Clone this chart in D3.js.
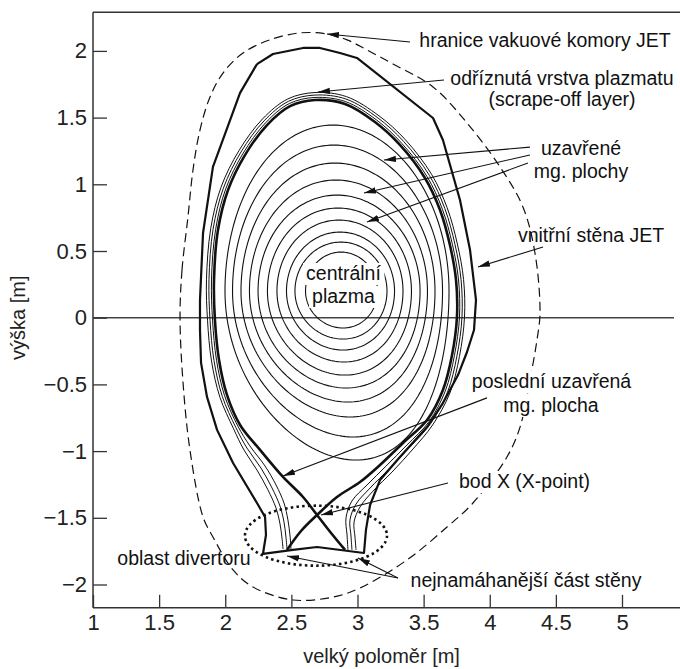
<!DOCTYPE html>
<html>
<head>
<meta charset="utf-8">
<script src="https://cdn.jsdelivr.net/npm/d3@7"></script>
<style>
  body { margin: 0; background: #fff; }
  svg { display: block; }
  text { font-family: "Liberation Sans", Arial, sans-serif; }
</style>
</head>
<body>
<svg id="svg" width="680" height="669"></svg>
<script>
// ticks
const xTicks = [1, 1.5, 2, 2.5, 3, 3.5, 4, 4.5, 5];
const yTicks = [-2, -1.5, -1, -0.5, 0, 0.5, 1, 1.5, 2];

// hranice vakuove komory (carkovane), [R, Z] v metrech
const vessel = [
  [1.658, 0.000], [1.673, 0.357], [1.718, 0.755], [1.756, 1.107], [1.809, 1.407],
  [1.885, 1.655], [1.983, 1.834], [2.134, 1.984], [2.338, 2.083], [2.565, 2.135],
  [2.769, 2.127], [2.921, 2.083], [3.072, 2.007], [3.268, 1.902], [3.571, 1.730],
  [3.828, 1.460], [4.078, 1.130], [4.251, 0.830], [4.342, 0.485], [4.380, 0.035],
  [4.357, -0.167], [4.304, -0.467], [4.229, -0.820], [4.130, -1.044], [3.873, -1.389],
  [3.677, -1.569], [3.374, -1.816], [3.019, -2.026], [2.815, -2.094], [2.512, -2.116],
  [2.210, -2.019], [2.059, -1.891], [1.907, -1.644], [1.832, -1.494], [1.733, -0.991],
  [1.681, -0.490]
];

// vnitrni stena JET (polygon)
const wall = [
  [2.240, 1.901], [2.361, 1.977], [2.588, 2.022], [2.716, 2.022], [2.868, 1.984],
  [2.996, 1.947], [3.571, 1.497], [3.646, 1.332], [3.775, 0.882], [3.851, 0.507],
  [3.896, 0.133], [3.881, -0.092], [3.828, -0.257], [3.760, -0.430], [3.646, -0.640],
  [3.526, -0.820], [3.321, -1.044], [3.170, -1.217], [3.095, -1.404], [3.064, -1.591],
  [3.049, -1.764], [2.694, -1.719], [2.512, -1.741], [2.285, -1.771], [2.308, -1.629],
  [2.301, -1.494], [2.240, -1.389], [2.059, -1.089], [1.938, -0.841], [1.862, -0.594],
  [1.817, -0.339], [1.809, -0.092], [1.809, 0.133], [1.832, 0.635], [1.907, 1.130],
  [2.112, 1.685], [2.240, 1.901]
];

// posledni uzavrena mg. plocha (separatrix) s X-bodem
const separatrix = [
  [2.467, -1.741], [2.573, -1.599], [2.694, -1.479], [2.845, -1.344], [3.019, -1.232],
  [3.170, -1.104], [3.344, -0.939], [3.526, -0.767], [3.646, -0.542], [3.715, -0.280],
  [3.752, 0.005], [3.745, 0.283], [3.699, 0.545], [3.624, 0.807], [3.510, 1.047],
  [3.321, 1.295], [3.132, 1.467], [2.906, 1.602], [2.679, 1.632], [2.490, 1.586],
  [2.316, 1.444], [2.149, 1.219], [2.021, 0.957], [1.945, 0.657], [1.915, 0.283],
  [1.922, -0.017], [1.953, -0.317], [2.013, -0.579], [2.112, -0.804], [2.263, -0.991],
  [2.437, -1.194], [2.588, -1.344], [2.694, -1.479], [2.800, -1.614], [2.906, -1.741]
];

// odriznuta vrstva (scrape-off layer), tri tenke cary
const sol1 = [
  [2.497, -1.734], [2.490, -1.637], [2.474, -1.516], [2.444, -1.389], [2.384, -1.254],
  [2.301, -1.112], [2.187, -0.962], [2.096, -0.814], [1.995, -0.585], [1.934, -0.319],
  [1.904, -0.018], [1.896, 0.283], [1.927, 0.660], [2.003, 0.964], [2.134, 1.231],
  [2.304, 1.460], [2.484, 1.605], [2.679, 1.651], [2.909, 1.620], [3.143, 1.483],
  [3.335, 1.307], [3.527, 1.056], [3.642, 0.813], [3.718, 0.548], [3.764, 0.283],
  [3.771, 0.004], [3.733, -0.283], [3.664, -0.549], [3.540, -0.780], [3.374, -0.954],
  [3.216, -1.112], [3.072, -1.254], [2.958, -1.374], [2.913, -1.501], [2.921, -1.629],
  [2.928, -1.741]
];
const sol2 = [
  [2.467, -1.734], [2.459, -1.644], [2.444, -1.531], [2.414, -1.412], [2.354, -1.277],
  [2.270, -1.127], [2.164, -0.977], [2.080, -0.823], [1.978, -0.591], [1.915, -0.322],
  [1.885, -0.019], [1.877, 0.284], [1.908, 0.664], [1.986, 0.971], [2.119, 1.242],
  [2.293, 1.475], [2.478, 1.622], [2.679, 1.669], [2.913, 1.639], [3.154, 1.498],
  [3.349, 1.321], [3.544, 1.066], [3.660, 0.819], [3.737, 0.550], [3.783, 0.284],
  [3.790, 0.004], [3.752, -0.286], [3.681, -0.557], [3.554, -0.792], [3.397, -0.969],
  [3.238, -1.134], [3.095, -1.277], [2.989, -1.397], [2.943, -1.516], [2.951, -1.637],
  [2.958, -1.741]
];
const sol3 = [
  [2.437, -1.734], [2.429, -1.652], [2.414, -1.546], [2.384, -1.427], [2.323, -1.291],
  [2.240, -1.142], [2.142, -0.992], [2.063, -0.833], [1.960, -0.597], [1.896, -0.324],
  [1.866, -0.019], [1.858, 0.284], [1.890, 0.667], [1.968, 0.978], [2.104, 1.253],
  [2.282, 1.490], [2.473, 1.640], [2.679, 1.688], [2.917, 1.657], [3.163, 1.513],
  [3.362, 1.334], [3.560, 1.075], [3.678, 0.824], [3.755, 0.553], [3.802, 0.286],
  [3.809, 0.004], [3.771, -0.290], [3.699, -0.564], [3.568, -0.804], [3.420, -0.984],
  [3.261, -1.157], [3.117, -1.300], [3.019, -1.419], [2.974, -1.531], [2.981, -1.644],
  [2.989, -1.741]
];

// uzavrene mg. plochy: krajni body kazde plochy (od vnejsi k vnitrni)
const fluxRin  = [1.998, 2.055, 2.119, 2.183, 2.248, 2.319, 2.391, 2.463, 2.527, 2.607];
const fluxRout = [3.692, 3.643, 3.586, 3.529, 3.473, 3.408, 3.344, 3.280, 3.223, 3.151];
const fluxZtop = [1.444, 1.294, 1.159, 1.032, 0.919, 0.822, 0.732, 0.642, 0.567, 0.492];
const fluxZbot = [-1.067, -0.894, -0.744, -0.632, -0.527, -0.430, -0.332, -0.242, -0.160, -0.077];
const fluxRtop = [2.815, 2.822, 2.830, 2.837, 2.845, 2.853, 2.860, 2.868, 2.875, 2.875];
const fluxRbot = [2.701, 2.732, 2.762, 2.785, 2.807, 2.822, 2.837, 2.853, 2.860, 2.868];
const fluxZmid = [0.20, 0.20, 0.20, 0.20, 0.20, 0.20, 0.20, 0.20, 0.20, 0.20];

// oblast divertoru (teckovana elipsa): stred a poloosy
const divertorCenter = [2.686, -1.634];
const divertorRadii = [0.537, 0.225];

// popisky a sipky
const noteText = [
  "hranice vakuové komory JET", "odříznutá vrstva plazmatu", "(scrape-off layer)",
  "uzavřené", "mg. plochy", "vnitřní stěna JET", "centrální", "plazma",
  "poslední uzavřená", "mg. plocha", "bod X (X-point)", "nejnamáhanější část stěny",
  "oblast divertoru"
];
const notePos = [
  [4.418, 2.029], [4.546, 1.744], [4.546, 1.587], [4.690, 1.220], [4.690, 1.047],
  [4.766, 0.567], [2.894, 0.283], [2.894, 0.110], [4.467, -0.527], [4.463, -0.707],
  [4.263, -1.277], [4.274, -2.019], [1.688, -1.857]
];
const arrows = [
  [[3.397, 2.067], [2.769, 2.127]],
  [[3.654, 1.782], [2.701, 1.692]],
  [[4.304, 1.279], [3.200, 1.182]],
  [[4.304, 1.220], [3.049, 0.935]],
  [[4.289, 1.160], [3.072, 0.717]],
  [[4.403, 0.530], [3.911, 0.380]],
  [[3.979, -0.601], [2.437, -1.187]],
  [[3.684, -1.239], [2.724, -1.479]],
  [[3.306, -1.951], [2.467, -1.786]],
  [[3.306, -1.951], [3.004, -1.801]]
];

const W = 680, H = 669;
const svg = d3.select("#svg");
const x = d3.scaleLinear().domain([1, 5]).range([93, 622]);
const y = d3.scaleLinear().domain([-2, 2]).range([584.5, 50.9]);
const xRight = 5.44, yTop = 2.29, yBottom = -2.175;
const ink = "#111";

const defs = svg.append("defs");
defs.append("marker")
  .attr("id", "arr").attr("viewBox", "0 -4 12 8")
  .attr("refX", 12).attr("refY", 0)
  .attr("markerWidth", 12).attr("markerHeight", 8)
  .attr("markerUnits", "userSpaceOnUse").attr("orient", "auto")
  .append("path").attr("d", "M0,-3.2L12,0L0,3.2Z").attr("fill", ink);

const line = d3.line().x(d => x(d[0])).y(d => y(d[1]));
const smooth = d3.line().x(d => x(d[0])).y(d => y(d[1])).curve(d3.curveCatmullRom.alpha(0.5));
const smoothClosed = d3.line().x(d => x(d[0])).y(d => y(d[1])).curve(d3.curveCatmullRomClosed.alpha(0.5));

const gCurves = svg.append("g");
const gBg = svg.append("g");
const gText = svg.append("g");
const gArrows = svg.append("g");

// osa z=0
gCurves.append("line")
  .attr("x1", x(1)).attr("x2", x(5.393))
  .attr("y1", y(0)).attr("y2", y(0))
  .attr("stroke", "#444").attr("stroke-width", 1.4);

// uzavrene plochy (Millerova parametrizace z krajnich bodu)
fluxRin.forEach((rin, i) => {
  const r0 = (rin + fluxRout[i]) / 2, a = (fluxRout[i] - rin) / 2, z0 = fluxZmid[i];
  const ku = (fluxZtop[i] - z0) / a, kl = (z0 - fluxZbot[i]) / a;
  const du = Math.asin((r0 - fluxRtop[i]) / a), dl = Math.asin((r0 - fluxRbot[i]) / a);
  const pts = d3.range(0, 2 * Math.PI, Math.PI / 90).map(t => {
    const s = Math.sin(t);
    const up = s >= 0;
    return [r0 + a * Math.cos(t + (up ? du : -dl) * s), z0 + (up ? ku : kl) * a * s];
  });
  gCurves.append("path")
    .attr("d", line(pts) + "Z")
    .attr("fill", "none").attr("stroke", ink).attr("stroke-width", 1.1);
});

[sol1, sol2, sol3].forEach(s => {
  gCurves.append("path").attr("d", smooth(s))
    .attr("fill", "none").attr("stroke", ink).attr("stroke-width", 1);
});

gCurves.append("path").attr("d", smooth(separatrix))
  .attr("fill", "none").attr("stroke", ink).attr("stroke-width", 2.6)
  .attr("stroke-linejoin", "round");

gCurves.append("path").attr("d", line(wall))
  .attr("fill", "none").attr("stroke", ink).attr("stroke-width", 2.2)
  .attr("stroke-linejoin", "round");

gCurves.append("path").attr("d", smoothClosed(vessel))
  .attr("fill", "none").attr("stroke", ink).attr("stroke-width", 1.2)
  .attr("stroke-dasharray", "9,5");

gCurves.append("ellipse")
  .attr("cx", x(divertorCenter[0])).attr("cy", y(divertorCenter[1]))
  .attr("rx", x(divertorCenter[0] + divertorRadii[0]) - x(divertorCenter[0]))
  .attr("ry", y(divertorCenter[1] - divertorRadii[1]) - y(divertorCenter[1]))
  .attr("fill", "none").attr("stroke", ink).attr("stroke-width", 2.6)
  .attr("stroke-dasharray", "2.5,3.2");

// ramecek
const frame = svg.append("g").attr("stroke", "#333").attr("stroke-width", 1.5);
frame.append("line").attr("x1", x(1)).attr("x2", x(1)).attr("y1", y(yTop)).attr("y2", y(yBottom));
frame.append("line").attr("x1", x(1)).attr("x2", x(xRight)).attr("y1", y(yTop)).attr("y2", y(yTop));
frame.append("line").attr("x1", x(1)).attr("x2", x(xRight)).attr("y1", y(yBottom)).attr("y2", y(yBottom));

const fmt = d => String(d).replace("-", "\u2212");

const gy = svg.append("g").attr("transform", `translate(${x(1)},0)`)
  .call(d3.axisLeft(y).tickValues(yTicks).tickSizeInner(-14).tickSizeOuter(0).tickPadding(6).tickFormat(fmt));
const gx = svg.append("g").attr("transform", `translate(0,${y(yBottom)})`)
  .call(d3.axisBottom(x).tickValues(xTicks).tickSizeInner(-13).tickSizeOuter(0).tickPadding(7).tickFormat(fmt));
[gx, gy].forEach(ax => {
  ax.select(".domain").remove();
  ax.selectAll(".tick line").attr("stroke", "#333").attr("stroke-width", 1.3);
  ax.selectAll(".tick text").attr("font-size", 22).attr("fill", "#222")
    .attr("font-family", "'Liberation Sans', Arial, sans-serif");
});

// nazvy os
svg.append("text")
  .attr("x", x(3.182)).attr("y", 663)
  .attr("text-anchor", "middle").attr("font-size", 20).attr("fill", "#222")
  .text("velký poloměr [m]");
svg.append("text")
  .attr("transform", `translate(25,${y(0)}) rotate(-90)`)
  .attr("text-anchor", "middle").attr("font-size", 20).attr("fill", "#222")
  .text("výška [m]");

// popisky
const withBg = new Set([6, 7, 8, 9, 10]);
noteText.forEach((t, i) => {
  const el = gText.append("text")
    .attr("x", x(notePos[i][0])).attr("y", y(notePos[i][1]))
    .attr("text-anchor", "middle").attr("font-size", 19.5).attr("fill", ink)
    .text(t);
  if (withBg.has(i)) {
    const b = el.node().getBBox();
    gBg.append("rect")
      .attr("x", b.x - 3).attr("y", b.y + 1).attr("width", b.width + 6).attr("height", b.height)
      .attr("fill", "#fff");
  }
});

arrows.forEach(([from, to]) => {
  gArrows.append("line")
    .attr("x1", x(from[0])).attr("y1", y(from[1]))
    .attr("x2", x(to[0])).attr("y2", y(to[1]))
    .attr("stroke", ink).attr("stroke-width", 1.1)
    .attr("marker-end", "url(#arr)");
});
</script>
</body>
</html>
